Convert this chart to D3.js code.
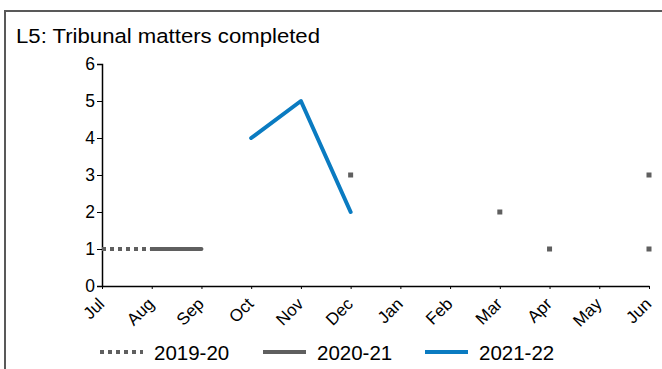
<!DOCTYPE html>
<html lang="en">
<head>
    <meta charset="UTF-8">
    <title>L5: Tribunal matters completed</title>
    <script src="https://d3js.org/d3.v7.min.js"></script>
    <style>
        body { margin: 0; background: #fff; }
        svg { display: block; font-family: "Liberation Sans", Arial, sans-serif; }
    </style>
</head>
<body>
    <svg id="chart" width="662" height="369"></svg>
    <script>
        const months = ["Jul", "Aug", "Sep", "Oct", "Nov", "Dec", "Jan", "Feb", "Mar", "Apr", "May", "Jun"];
        const yTicks = [0, 1, 2, 3, 4, 5, 6];
        // null = no value for that month
        const values1920 = [1, 1, null, null, null, 3, null, null, 2, null, null, 3];
        const values2021 = [null, 1, 1, null, null, null, null, null, null, 1, null, 1];
        const values2122 = [null, null, null, 4, 5, 2, null, null, null, null, null, null];

        const series = [
            {name: "2019-20", values: values1920, color: "#5f5f5f", dash: "4,4"},
            {name: "2020-21", values: values2021, color: "#5f5f5f", dash: null},
            {name: "2021-22", values: values2122, color: "#0a7bc1", dash: null}
        ];

        const svg = d3.select("#chart");

        // chart border
        svg.append("rect")
            .attr("x", 5).attr("y", 11)
            .attr("width", 662).attr("height", 400)
            .attr("fill", "none")
            .attr("stroke", "#595959")
            .attr("stroke-width", 2);

        svg.append("text")
            .attr("x", 16).attr("y", 43)
            .attr("font-size", 20.5)
            .attr("textLength", 304)
            .attr("lengthAdjust", "spacingAndGlyphs")
            .attr("fill", "#000")
            .text("L5: Tribunal matters completed");

        const x = d3.scalePoint().domain(months).range([102, 649]);
        const y = d3.scaleLinear().domain([0, 6]).range([286, 64]);

        const yAxis = svg.append("g")
            .attr("transform", "translate(102,0)")
            .call(d3.axisLeft(y).tickValues(yTicks).tickFormat(d3.format("d")).tickSize(5).tickPadding(2));
        yAxis.select(".domain").attr("stroke", "#000").attr("stroke-width", 1.5);
        yAxis.selectAll("text").attr("font-size", 17.5).attr("fill", "#000")
            .attr("font-family", "Liberation Sans, Arial, sans-serif");

        const xAxis = svg.append("g")
            .attr("transform", "translate(0,286)")
            .call(d3.axisBottom(x).tickSize(3).tickSizeOuter(0));
        xAxis.select(".domain").attr("stroke", "#000").attr("stroke-width", 1.5);
        xAxis.selectAll("text")
            .attr("font-size", 17).attr("fill", "#000")
            .attr("font-family", "Liberation Sans, Arial, sans-serif")
            .attr("text-anchor", "end")
            .attr("dy", null)
            .attr("y", 0)
            .attr("transform", "translate(3,19) rotate(-45)");

        const line = d3.line()
            .defined(d => d.v !== null)
            .x(d => x(d.m))
            .y(d => y(d.v));

        series.forEach(s => {
            const pts = s.values.map((v, i) => ({m: months[i], v: v}));
            svg.append("path")
                .datum(pts)
                .attr("fill", "none")
                .attr("stroke", s.color)
                .attr("stroke-width", 4)
                .attr("stroke-dasharray", s.dash)
                .attr("stroke-linecap", s.dash ? "butt" : "round")
                .attr("stroke-linejoin", "round")
                .attr("d", line);

            // isolated points show as small squares
            const lone = pts.filter((d, i) => d.v !== null &&
                (i === 0 || pts[i - 1].v === null) &&
                (i === pts.length - 1 || pts[i + 1].v === null));
            svg.selectAll(null)
                .data(lone)
                .enter().append("rect")
                .attr("x", d => x(d.m) - 2.5)
                .attr("y", d => y(d.v) - 2.5)
                .attr("width", 5).attr("height", 5)
                .attr("fill", s.color);
        });

        // legend
        const legendX = [100, 263, 425];
        const legend = svg.selectAll(".legend")
            .data(series)
            .enter().append("g")
            .attr("transform", (d, i) => `translate(${legendX[i]},352)`);

        legend.append("line")
            .attr("x1", 0).attr("x2", 43)
            .attr("y1", 0).attr("y2", 0)
            .attr("stroke", d => d.color)
            .attr("stroke-width", 4)
            .attr("stroke-dasharray", d => d.dash);

        legend.append("text")
            .attr("x", 54).attr("y", 7.5)
            .attr("font-size", 20.5)
            .attr("fill", "#000")
            .text(d => d.name);
    </script>
</body>
</html>
